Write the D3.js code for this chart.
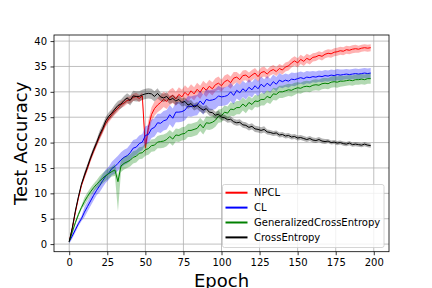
<!DOCTYPE html>
<html>
<head>
<meta charset="utf-8">
<script src="https://cdn.jsdelivr.net/npm/d3@7"></script>
<style>
  body { margin: 0; background: #fff; }
  text { font-family: "DejaVu Sans", sans-serif; fill: #000; }
</style>
</head>
<body>
<svg id="chart" width="432" height="288"></svg>
<script>
// one value every 2 epochs (0, 2, ..., 198)
var epochStep = 2;

var npcl = [
  0.5, 3.0, 6.2, 9.0, 11.5, 13.4, 15.0, 16.8, 18.3, 19.8,
  21.2, 22.5, 23.8, 24.7, 25.5, 26.2, 26.8, 27.5, 27.8, 28.3,
  28.4, 28.9, 29.1, 28.7, 29.2, 19.0, 23.0, 25.5, 26.7, 27.4,
  27.9, 28.5, 28.1, 28.9, 29.3, 28.6, 29.5, 29.0, 29.9, 29.3,
  30.2, 29.6, 30.5, 29.9, 30.9, 30.3, 31.1, 30.6, 31.4, 31.7,
  31.2, 32.0, 32.3, 31.8, 32.7, 32.9, 32.4, 33.2, 33.3, 32.8,
  33.3, 33.7, 33.0, 33.8, 34.0, 33.5, 34.1, 34.4, 34.0, 34.6,
  34.3, 34.9, 35.1, 35.7, 36.1, 35.7, 36.4, 36.0, 36.6, 36.3,
  36.8, 36.9, 37.2, 37.0, 37.4, 37.6, 37.5, 37.8, 37.9, 38.1,
  38.0, 38.3, 38.2, 38.4, 38.5, 38.4, 38.6, 38.7, 38.6, 38.7
];
var cl = [
  0.5, 1.6, 2.8, 4.0, 5.0, 6.3, 7.4, 8.5, 9.6, 10.6,
  11.5, 12.5, 13.4, 14.0, 14.9, 15.3, 15.9, 16.6, 17.1, 17.4,
  18.0, 18.9, 19.1, 19.8, 20.1, 21.4, 21.6, 22.7, 23.0, 23.9,
  23.8, 24.3, 24.5, 25.5, 24.8, 26.0, 26.0, 26.1, 26.4, 27.2,
  27.1, 27.3, 27.4, 28.2, 27.5, 28.5, 28.3, 28.4, 28.6, 29.2,
  29.0, 29.1, 29.3, 30.0, 29.3, 30.3, 29.8, 30.6, 30.1, 30.9,
  30.4, 31.2, 30.6, 31.5, 31.0, 31.7, 31.2, 32.0, 31.5, 32.3,
  32.0, 32.3, 32.1, 32.5, 32.4, 32.6, 32.8, 32.6, 32.9, 32.8,
  33.0, 32.9, 33.1, 33.0, 33.2, 33.1, 33.3, 33.2, 33.4, 33.3,
  33.4, 33.5, 33.4, 33.5, 33.6, 33.5, 33.6, 33.7, 33.6, 33.7
];
var gce = [
  0.5, 2.4, 4.2, 5.8, 7.2, 8.4, 9.4, 10.3, 11.1, 11.8,
  12.4, 13.0, 13.5, 13.9, 14.3, 14.6, 12.3, 15.4, 15.9, 16.2,
  16.5, 17.1, 17.3, 17.9, 18.0, 18.6, 18.8, 19.4, 19.5, 20.1,
  20.2, 20.3, 20.6, 21.2, 20.7, 21.5, 21.4, 21.7, 21.8, 22.4,
  22.4, 22.6, 22.8, 23.6, 22.9, 23.9, 23.8, 24.0, 24.4, 25.2,
  25.3, 26.0, 25.8, 26.6, 26.5, 26.9, 26.9, 27.6, 27.1, 27.9,
  27.5, 28.2, 28.1, 28.5, 28.5, 29.1, 28.8, 29.6, 29.5, 30.0,
  30.0, 30.2, 30.4, 30.3, 30.6, 30.8, 30.7, 31.0, 31.1, 31.0,
  31.3, 31.4, 31.3, 31.6, 31.7, 31.6, 31.9, 32.0, 31.9, 32.1,
  32.1, 32.2, 32.3, 32.2, 32.4, 32.4, 32.5, 32.4, 32.6, 32.6
];
var ce = [
  0.5, 3.2, 6.5, 9.3, 11.8, 13.6, 15.3, 17.0, 18.6, 20.0,
  21.6, 22.8, 24.3, 25.2, 25.8, 26.6, 27.3, 27.6, 28.3, 28.8,
  28.3, 29.2, 29.1, 29.1, 29.4, 29.6, 29.7, 29.6, 29.1, 29.7,
  29.0, 28.8, 29.1, 28.4, 28.7, 28.2, 28.5, 27.9, 28.1, 27.4,
  27.7, 27.0, 27.3, 26.8, 26.4, 26.7, 26.0, 25.9, 25.4, 25.6,
  25.0, 24.9, 24.5, 24.6, 24.1, 23.9, 24.0, 23.5, 23.4, 23.0,
  23.2, 22.7, 22.6, 22.4, 22.6, 22.1, 22.0, 21.8, 21.9, 21.5,
  21.6, 21.3, 21.4, 21.1, 21.2, 20.9, 21.0, 20.8, 20.6, 20.8,
  20.5, 20.4, 20.6, 20.3, 20.2, 20.3, 20.0, 20.1, 19.9, 20.0,
  19.8, 19.7, 19.9, 19.6, 19.7, 19.6, 19.5, 19.7, 19.5, 19.4
];

// band half-width, one value per 10-epoch block
var npclSpread = [0.3, 0.6, 0.7, 0.7, 0.7, 1.4, 1.5, 1.4, 1.3, 1.3, 1.2, 1.0, 1.0, 0.9, 0.9, 0.9, 0.8, 0.8, 0.8, 0.7];
var clSpread   = [0.5, 1.0, 1.3, 1.5, 1.6, 1.8, 1.9, 2.0, 2.0, 2.0, 1.8, 1.6, 1.5, 1.4, 1.3, 1.2, 1.1, 1.1, 1.0, 1.0];
var gceSpread  = [0.4, 0.8, 1.0, 1.2, 1.2, 1.2, 1.3, 1.3, 1.3, 1.3, 1.3, 1.3, 1.2, 1.2, 1.2, 1.1, 1.1, 1.1, 1.0, 1.0];
var ceSpread   = [0.3, 0.6, 0.8, 0.9, 1.0, 1.0, 0.8, 0.8, 0.7, 0.7, 0.6, 0.6, 0.6, 0.5, 0.5, 0.5, 0.5, 0.4, 0.4, 0.4];

// single epochs where the lower band edge drops much further than the mean
var gceDipEpochs = [32];
var gceDipLows = [6.4];

var names = ["NPCL", "CL", "GeneralizedCrossEntropy", "CrossEntropy"];
var colors = ["#ff0000", "#0000ff", "#008000", "#000000"];
var xTicks = [0, 25, 50, 75, 100, 125, 150, 175, 200];
var yTicks = [0, 5, 10, 15, 20, 25, 30, 35, 40];

var series = [
  {name: names[0], color: colors[0], values: npcl, spread: npclSpread, dipE: [], dipLo: []},
  {name: names[1], color: colors[1], values: cl, spread: clSpread, dipE: [], dipLo: []},
  {name: names[2], color: colors[2], values: gce, spread: gceSpread, dipE: gceDipEpochs, dipLo: gceDipLows},
  {name: names[3], color: colors[3], values: ce, spread: ceSpread, dipE: [], dipLo: []}
];

var svg = d3.select("#chart"),
    plotLeft = 54, plotRight = 389, plotTop = 35, plotBottom = 251.7;

var x = d3.scaleLinear().domain([-10, 210]).range([plotLeft, plotRight]);
var y = d3.scaleLinear().domain([-1.5, 41.2]).range([plotBottom, plotTop]);

// grid
svg.append("g").selectAll("line").data(xTicks).enter().append("line")
    .attr("x1", function(d) { return x(d); }).attr("x2", function(d) { return x(d); })
    .attr("y1", plotTop).attr("y2", plotBottom)
    .attr("stroke", "#b0b0b0").attr("stroke-width", 0.8);
svg.append("g").selectAll("line").data(yTicks).enter().append("line")
    .attr("y1", function(d) { return y(d); }).attr("y2", function(d) { return y(d); })
    .attr("x1", plotLeft).attr("x2", plotRight)
    .attr("stroke", "#b0b0b0").attr("stroke-width", 0.8);

function rows(s) {
  return s.values.map(function(v, i) {
    var e = i * epochStep;
    var sd = s.spread[Math.floor(e / 10)];
    var k = s.dipE.indexOf(e);
    return {e: e, v: v, lo: k >= 0 ? s.dipLo[k] : v - sd, hi: v + sd};
  });
}

var band = d3.area()
    .x(function(d) { return x(d.e); })
    .y0(function(d) { return y(d.lo); })
    .y1(function(d) { return y(d.hi); });
var line = d3.line()
    .x(function(d) { return x(d.e); })
    .y(function(d) { return y(d.v); });

var plot = svg.append("g");
series.forEach(function(s) {
  var data = rows(s);
  plot.append("path")
      .attr("d", band(data))
      .attr("fill", s.color)
      .attr("fill-opacity", 0.3);
  plot.append("path")
      .attr("d", line(data))
      .attr("fill", "none")
      .attr("stroke", s.color)
      .attr("stroke-width", 1);
});

// frame
svg.append("rect")
    .attr("x", plotLeft).attr("y", plotTop)
    .attr("width", plotRight - plotLeft).attr("height", plotBottom - plotTop)
    .attr("fill", "none").attr("stroke", "#000").attr("stroke-width", 0.8);

var xAxis = svg.append("g")
    .attr("transform", "translate(0," + plotBottom + ")")
    .call(d3.axisBottom(x).tickValues(xTicks).tickSize(3.5).tickPadding(3.5));
var yAxis = svg.append("g")
    .attr("transform", "translate(" + plotLeft + ",0)")
    .call(d3.axisLeft(y).tickValues(yTicks).tickSize(3.5).tickPadding(3.5));
[xAxis, yAxis].forEach(function(a) {
  a.select(".domain").remove();
  a.selectAll("line").attr("stroke", "#000").attr("stroke-width", 0.8);
  a.selectAll("text").attr("font-size", "10px").attr("font-family", "DejaVu Sans");
});

svg.append("text")
    .attr("x", x(100)).attr("y", 286.5)
    .attr("text-anchor", "middle")
    .attr("font-size", "18px")
    .text("Epoch");
svg.append("text")
    .attr("transform", "translate(26.5," + ((plotTop + plotBottom) / 2) + ") rotate(-90)")
    .attr("text-anchor", "middle")
    .attr("font-size", "18px")
    .text("Test Accuracy");

// legend
var legend = svg.append("g").attr("transform", "translate(222.5,184.5)");
legend.append("rect")
    .attr("width", 161.5).attr("height", 63)
    .attr("rx", 2).attr("ry", 2)
    .attr("fill", "#fff").attr("fill-opacity", 0.8)
    .attr("stroke", "#cccccc").attr("stroke-width", 0.8);
var item = legend.selectAll(".item").data(series).enter().append("g")
    .attr("class", "item")
    .attr("transform", function(d, i) { return "translate(0," + (8.2 + i * 14.9) + ")"; });
item.append("line")
    .attr("x1", 3).attr("x2", 25)
    .attr("stroke", function(d) { return d.color; })
    .attr("stroke-width", 2);
item.append("text")
    .attr("x", 31.5).attr("y", 3.6)
    .attr("font-size", "10px")
    .text(function(d) { return d.name; });
</script>
</body>
</html>
